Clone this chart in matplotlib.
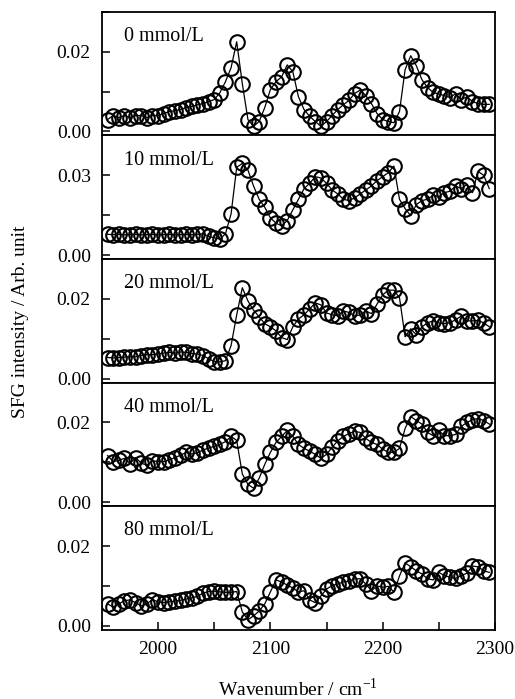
import numpy as np
import matplotlib.pyplot as plt
from matplotlib.ticker import MultipleLocator, FormatStrFormatter

plt.rcParams['font.family'] = ['Liberation Serif', 'DejaVu Serif']
plt.rcParams['mathtext.fontset'] = 'custom'
plt.rcParams['mathtext.rm'] = 'Liberation Serif'

# wavenumber / cm-1
wavenumber = [1955, 1960, 1965, 1970, 1975, 1980, 1985, 1990, 1995, 2000,
              2005, 2010, 2015, 2020, 2025, 2030, 2035, 2040, 2045, 2050,
              2055, 2060, 2065, 2070, 2075, 2080, 2085, 2090, 2095, 2100,
              2105, 2110, 2115, 2120, 2125, 2130, 2135, 2140, 2145, 2150,
              2155, 2160, 2165, 2170, 2175, 2180, 2185, 2190, 2195, 2200,
              2205, 2210, 2215, 2220, 2225, 2230, 2235, 2240, 2245, 2250,
              2255, 2260, 2265, 2270, 2275, 2280, 2285, 2290, 2295]

sfg_0 = [0.0030, 0.0040, 0.0035, 0.0040, 0.0035, 0.0040, 0.0040, 0.0035, 0.0040, 0.0040,
         0.0045, 0.0050, 0.0052, 0.0055, 0.0060, 0.0063, 0.0067, 0.0070, 0.0075, 0.0080,
         0.0097, 0.0125, 0.0160, 0.0225, 0.0120, 0.0030, 0.0013, 0.0025, 0.0060, 0.0105,
         0.0125, 0.0137, 0.0167, 0.0150, 0.0087, 0.0055, 0.0038, 0.0025, 0.0013, 0.0025,
         0.0040, 0.0055, 0.0067, 0.0078, 0.0095, 0.0104, 0.0090, 0.0070, 0.0045, 0.0030,
         0.0025, 0.0022, 0.0050, 0.0155, 0.0190, 0.0165, 0.0130, 0.0110, 0.0098, 0.0094,
         0.0090, 0.0085, 0.0095, 0.0080, 0.0087, 0.0075, 0.0070, 0.0068, 0.0068]

sfg_10 = [0.0078, 0.0077, 0.0078, 0.0076, 0.0077, 0.0078, 0.0076, 0.0077, 0.0078, 0.0076,
          0.0077, 0.0078, 0.0076, 0.0077, 0.0078, 0.0076, 0.0078, 0.0080, 0.0070, 0.0065,
          0.0060, 0.0080, 0.0155, 0.0330, 0.0345, 0.0320, 0.0260, 0.0210, 0.0180, 0.0140,
          0.0120, 0.0110, 0.0130, 0.0170, 0.0210, 0.0250, 0.0270, 0.0295, 0.0290, 0.0270,
          0.0245, 0.0230, 0.0210, 0.0205, 0.0215, 0.0230, 0.0245, 0.0260, 0.0280, 0.0295,
          0.0310, 0.0335, 0.0210, 0.0175, 0.0148, 0.0190, 0.0205, 0.0210, 0.0225, 0.0220,
          0.0235, 0.0240, 0.0260, 0.0250, 0.0265, 0.0235, 0.0315, 0.0300, 0.0250]

sfg_20 = [0.0053, 0.0052, 0.0053, 0.0054, 0.0055, 0.0055, 0.0058, 0.0060, 0.0060, 0.0062,
          0.0064, 0.0066, 0.0064, 0.0067, 0.0066, 0.0063, 0.0062, 0.0058, 0.0050, 0.0043,
          0.0042, 0.0045, 0.0083, 0.0160, 0.0228, 0.0195, 0.0172, 0.0155, 0.0138, 0.0130,
          0.0120, 0.0103, 0.0098, 0.0130, 0.0150, 0.0160, 0.0175, 0.0190, 0.0185, 0.0165,
          0.0160, 0.0158, 0.0170, 0.0166, 0.0157, 0.0160, 0.0170, 0.0163, 0.0187, 0.0210,
          0.0222, 0.0222, 0.0203, 0.0105, 0.0125, 0.0110, 0.0130, 0.0140, 0.0145, 0.0140,
          0.0138, 0.0140, 0.0148, 0.0157, 0.0145, 0.0145, 0.0146, 0.0140, 0.0130]

sfg_40 = [0.0117, 0.0102, 0.0105, 0.0110, 0.0097, 0.0112, 0.0098, 0.0093, 0.0104, 0.0102,
          0.0102, 0.0106, 0.0112, 0.0118, 0.0125, 0.0121, 0.0124, 0.0131, 0.0136, 0.0140,
          0.0145, 0.0152, 0.0165, 0.0155, 0.0071, 0.0045, 0.0035, 0.0060, 0.0095, 0.0125,
          0.0150, 0.0165, 0.0180, 0.0165, 0.0145, 0.0135, 0.0128, 0.0120, 0.0110, 0.0120,
          0.0138, 0.0154, 0.0165, 0.0172, 0.0178, 0.0175, 0.0160, 0.0150, 0.0145, 0.0133,
          0.0125, 0.0125, 0.0135, 0.0185, 0.0215, 0.0205, 0.0196, 0.0175, 0.0167, 0.0180,
          0.0167, 0.0167, 0.0170, 0.0190, 0.0200, 0.0207, 0.0210, 0.0205, 0.0196]

sfg_80 = [0.0055, 0.0047, 0.0055, 0.0063, 0.0065, 0.0058, 0.0050, 0.0055, 0.0066, 0.0060,
          0.0058, 0.0060, 0.0062, 0.0064, 0.0067, 0.0070, 0.0074, 0.0082, 0.0086, 0.0087,
          0.0085, 0.0084, 0.0084, 0.0086, 0.0035, 0.0015, 0.0025, 0.0037, 0.0055, 0.0085,
          0.0115, 0.0110, 0.0102, 0.0095, 0.0085, 0.0088, 0.0065, 0.0058, 0.0075, 0.0092,
          0.0101, 0.0105, 0.0110, 0.0112, 0.0118, 0.0118, 0.0105, 0.0088, 0.0100, 0.0097,
          0.0099, 0.0085, 0.0125, 0.0158, 0.0148, 0.0138, 0.0130, 0.0118, 0.0115, 0.0134,
          0.0126, 0.0122, 0.0119, 0.0126, 0.0132, 0.0150, 0.0148, 0.0138, 0.0134]

labels = ['0 mmol/L', '10 mmol/L', '20 mmol/L', '40 mmol/L', '80 mmol/L']
spectra = [sfg_0, sfg_10, sfg_20, sfg_40, sfg_80]

fig, axes = plt.subplots(5, 1, figsize=(5.15, 6.99), dpi=100, sharex=True)
fig.subplots_adjust(left=0.198, right=0.961, top=0.983, bottom=0.099, hspace=0)

for i, (ax, y, lab) in enumerate(zip(axes, spectra, labels)):
    ax.plot(wavenumber, y, '-', color='black', lw=0.9, marker='o', ms=10.5,
            mfc='none', mec='black', mew=1.5)
    if i == 1:
        ax.set_ylim(-0.0015, 0.045)
        ax.yaxis.set_major_locator(MultipleLocator(0.03))
        ax.yaxis.set_minor_locator(MultipleLocator(0.015))
    else:
        ax.set_ylim(-0.001, 0.030)
        ax.yaxis.set_major_locator(MultipleLocator(0.02))
        ax.yaxis.set_minor_locator(MultipleLocator(0.01))
    ax.yaxis.set_major_formatter(FormatStrFormatter('%.2f'))
    ax.text(0.056, 0.80, lab, transform=ax.transAxes, fontsize=14.5, va='center')
    for s in ax.spines.values():
        s.set_linewidth(1.3)
    ax.tick_params(axis='y', which='both', direction='in', length=6, width=1.1,
                   labelsize=14, pad=8, right=False)
    ax.tick_params(axis='x', which='both', direction='in', length=6, width=1.1,
                   labelsize=14, pad=8, top=False, bottom=(i == 4))

ax = axes[-1]
ax.set_xlim(1950, 2300)
ax.xaxis.set_major_locator(MultipleLocator(100))
ax.xaxis.set_minor_locator(MultipleLocator(50))
ax.set_xlabel('Wavenumber / cm$^{-1}$', fontsize=14, labelpad=14)

fig.text(0.04, 0.54, 'SFG intensity / Arb. unit', rotation=90, fontsize=14,
         ha='center', va='center')

fig.savefig('out.png', dpi=100)
